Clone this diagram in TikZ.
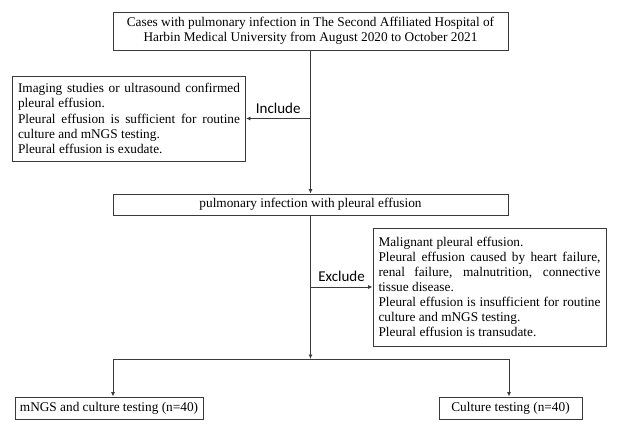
\documentclass[tikz,border=0pt]{standalone}
\usepackage{fontspec}
\setmainfont{Liberation Serif}
\newfontfamily\labelfont{Carlito}
\usetikzlibrary{arrows.meta}
\definecolor{linegray}{HTML}{3A3A3A}

\begin{document}
\begin{tikzpicture}[x=1pt,y=-1pt,
  >={Latex[length=4.5pt,width=4pt]},
  box/.style={draw=linegray,line width=0.9pt,inner sep=0pt,font=\rmfamily\fontsize{13.3}{15.1}\selectfont},
  para/.style={box,text width=222pt,align=justify,inner xsep=5.5pt},
  line/.style={draw=linegray,line width=0.9pt},
  arr/.style={line,->},
  tag/.style={font=\labelfont\fontsize{15}{17}\selectfont}]
  \useasboundingbox (0,0) rectangle (620,430);

  \node[box,minimum width=395pt,minimum height=38pt,align=center] (cases) at (310.5,31)
    {Cases with pulmonary infection in The Second Affiliated Hospital of\\Harbin Medical University from August 2020 to October 2021};
  \node[para,minimum height=85pt] (incl) at (129,118.5)
    {Imaging studies or ultrasound confirmed\linebreak pleural effusion.\\
     Pleural effusion is sufficient for routine\linebreak culture and mNGS testing.\\
     Pleural effusion is exudate.};
  \node[box,minimum width=395pt,minimum height=21pt] (pe) at (310.5,204.5) {pulmonary infection with pleural effusion};
  \node[para,minimum height=118pt] (excl) at (489.5,287)
    {Malignant pleural effusion.\\
     Pleural effusion caused by heart failure,\linebreak renal failure, malnutrition, connective\linebreak tissue disease.\\
     Pleural effusion is insufficient for routine\linebreak culture and mNGS testing.\\
     Pleural effusion is transudate.};
  \node[box,minimum width=188pt,minimum height=22pt] (ngs) at (109,408) {mNGS and culture testing (n=40)};
  \node[box,minimum width=143pt,minimum height=22pt] (cult) at (510.5,408) {Culture testing (n=40)};

  \coordinate (inc) at (310.5,118.5);
  \coordinate (exc) at (310.5,287);
  \coordinate (split) at (310.5,359);
  \coordinate (sl) at (113,359);
  \coordinate (sr) at (509,359);

  \draw[arr] (cases) -- (pe);
  \draw[arr] (inc) -- (incl) node[tag,midway,above=1.5pt]{Include};
  \draw[arr] (exc) -- (excl) node[tag,midway,above=1.5pt]{Exclude};
  \draw[arr] (pe) -- (split);
  \draw[line] (sl) -- (sr);
  \draw[arr] (sl) -- (sl |- ngs.north);
  \draw[arr] (sr) -- (sr |- cult.north);
\end{tikzpicture}
\end{document}
